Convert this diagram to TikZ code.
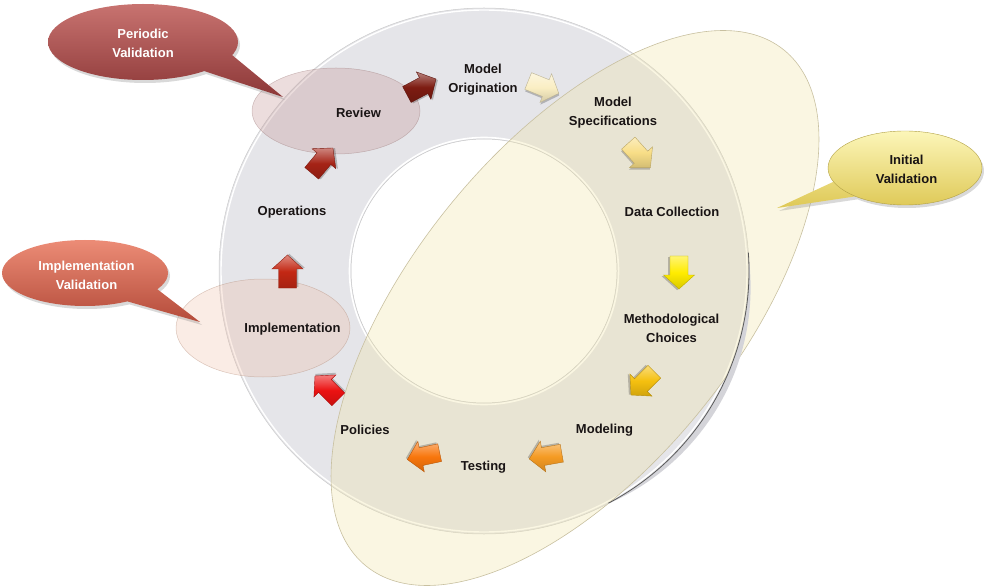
\documentclass[tikz,border=0pt]{standalone}
\usepackage{fontspec}
\setmainfont{Liberation Sans}
\usetikzlibrary{shadows}
\definecolor{ringgray}{RGB}{229,229,233}
\definecolor{creamfill}{RGB}{240,228,165}
\definecolor{creamline}{RGB}{200,192,160}
\definecolor{bandgray}{RGB}{212,212,217}
\definecolor{reviewfill}{RGB}{195,150,150}
\definecolor{implfill}{RGB}{238,185,160}
\definecolor{txt}{RGB}{25,20,20}
\definecolor{perA}{RGB}{200,115,112}
\definecolor{perB}{RGB}{166,76,76}
\definecolor{perC}{RGB}{140,55,55}
\definecolor{impA}{RGB}{236,140,118}
\definecolor{impB}{RGB}{214,100,78}
\definecolor{impC}{RGB}{180,75,58}
\definecolor{iniA}{RGB}{252,246,185}
\definecolor{iniB}{RGB}{245,230,125}
\definecolor{iniC}{RGB}{222,200,85}
\definecolor{arMaroon}{RGB}{125,28,18}
\definecolor{arCream}{RGB}{250,238,195}
\definecolor{arPale}{RGB}{248,222,135}
\definecolor{arYellow}{RGB}{255,236,0}
\definecolor{arGold}{RGB}{245,192,15}
\definecolor{arOrangeA}{RGB}{245,155,35}
\definecolor{arOrangeB}{RGB}{248,118,12}
\definecolor{arRed}{RGB}{235,18,18}
\definecolor{arRedBrown}{RGB}{195,40,20}
\definecolor{arDarkRed}{RGB}{165,35,22}
\newcommand\myarrowpath{(-16,-9) -- (3,-9) -- (3,-15.5) -- (17,0) -- (3,15.5) -- (3,9) -- (-16,9) -- cycle}
\newcommand\blkarrow[4]{%
  \begin{scope}[shift={(#1,#2)},rotate=#3]
    \fill[black,opacity=0.22,shift={(1.2,-1.8)}] \myarrowpath;
    \shade[top color=#4!55!white,bottom color=#4!85!black,middle color=#4,draw=#4!75!black,line width=0.4] \myarrowpath;
  \end{scope}}
\begin{document}
\begin{tikzpicture}[x=1pt,y=1pt,
  lbl/.style={font=\bfseries\fontsize{13}{19}\selectfont,align=center,text=txt,inner sep=0pt},
  clbl/.style={font=\bfseries\fontsize{13}{19}\selectfont,align=center,inner sep=0pt}]
\useasboundingbox (0,0) rectangle (984,587);
% ring
\fill[ringgray,even odd rule] (484,316) ellipse[x radius=265,y radius=263] (484,316) ellipse[x radius=133,y radius=132];
\draw[white,line width=1.4] (484,316) ellipse[x radius=263,y radius=261];
\draw[gray!40,line width=0.5] (484,316) ellipse[x radius=265,y radius=263];
\draw[white,line width=1.6] (484,316) ellipse[x radius=134.5,y radius=133.5];
\draw[gray!45,line width=0.5] (484,316) ellipse[x radius=133,y radius=132];
% initial validation region
\begin{scope}[shift={(575,279)},rotate=51]
  \fill[creamfill,opacity=0.32] (0,0) ellipse[x radius=332,y radius=162];
  \draw[creamline,line width=0.6] (0,0) ellipse[x radius=332,y radius=162];
\end{scope}
% ring shadow band (bottom right), tapering crescent
\begin{scope}
  \clip (512.6,299.5) ellipse[x radius=238,y radius=236];
  \fill[bandgray,even odd rule] (0,0) rectangle (984,587) (484,316) ellipse[x radius=265,y radius=263];
\end{scope}
\draw[gray!70!black,line width=0.8] (484,316) ++(-62:265 and 263) arc[start angle=-62,end angle=4,x radius=265,y radius=263];
% review and implementation regions
\fill[reviewfill,opacity=0.32] (336,476) ellipse[x radius=84,y radius=43];
\draw[reviewfill!80!black,opacity=0.45,line width=0.5] (336,476) ellipse[x radius=84,y radius=43];
\fill[implfill,opacity=0.28] (263,259) ellipse[x radius=87,y radius=49];
\draw[implfill!75!black,opacity=0.45,line width=0.5] (263,259) ellipse[x radius=87,y radius=49];
% callouts
\path[top color=perA,middle color=perB,bottom color=perC,drop shadow={opacity=0.3,shadow xshift=2pt,shadow yshift=-3pt}]
  (143,545) ellipse[x radius=95,y radius=38] (204,516) -- (283,490) -- (232,532) -- cycle;
\path[top color=impA,middle color=impB,bottom color=impC,drop shadow={opacity=0.3,shadow xshift=2pt,shadow yshift=-3pt}]
  (85,314) ellipse[x radius=83,y radius=33] (126,286) -- (200,265) -- (157,298) -- cycle;
\path[top color=iniA,middle color=iniB,bottom color=iniC,drop shadow={opacity=0.3,shadow xshift=2pt,shadow yshift=-3pt}]
  (905,419) ellipse[x radius=77,y radius=37] (833,405) -- (777,379) -- (858,391) -- cycle;
\draw[iniC!80!black,line width=0.4] (905,419) ellipse[x radius=77,y radius=37];
% arrows
\blkarrow{421}{500}{28}{arMaroon}
\blkarrow{543}{500}{-22}{arCream}
\blkarrow{639}{432}{-48}{arPale}
\blkarrow{679}{315}{-90}{arYellow}
\blkarrow{643}{204}{-135}{arGold}
\blkarrow{546}{131}{190}{arOrangeA}
\blkarrow{424}{131}{192}{arOrangeB}
\blkarrow{327}{199}{135}{arRed}
\blkarrow{287.5}{315}{90}{arRedBrown}
\blkarrow{322}{426}{50}{arDarkRed}
% labels
\node[lbl] (orig) at (483,507.5) {Model\\Origination};
\node[lbl] (spec) at (613,474.5) {Model\\Specifications};
\node[lbl] (data) at (672,375) {Data Collection};
\node[lbl] (meth) at (671.5,258.5) {Methodological\\Choices};
\node[lbl] (modl) at (604.5,157) {Modeling};
\node[lbl] (test) at (483.5,120) {Testing};
\node[lbl] (poli) at (365,157) {Policies};
\node[lbl] (impl) at (292.5,258) {Implementation};
\node[lbl] (oper) at (292,375) {Operations};
\node[lbl] (revw) at (358.5,474) {Review};
\node[clbl,text=white] (perv) at (143,544) {Periodic\\Validation};
\node[clbl,text=white] (impv) at (86.5,312) {Implementation\\Validation};
\node[clbl,text=txt] (iniv) at (906.5,417.5) {Initial\\Validation};
\end{tikzpicture}
\end{document}
